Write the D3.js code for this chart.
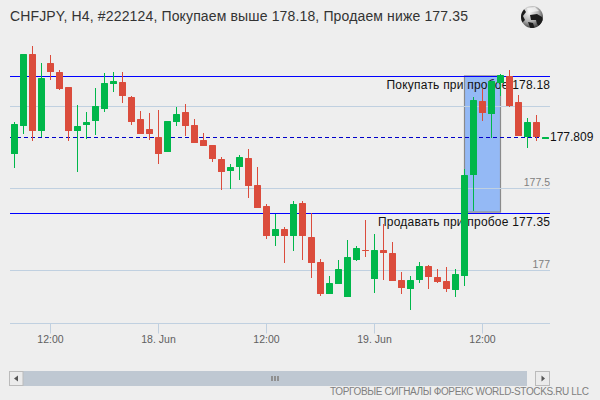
<!DOCTYPE html>
<html><head><meta charset="utf-8">
<script src="https://cdn.jsdelivr.net/npm/d3@7"></script>
<style>html,body{margin:0;padding:0;background:#eeeeee}svg{display:block}text{font-family:"Liberation Sans",Arial,sans-serif}</style>
</head><body><svg id="c" width="600" height="400"></svg>
<script>
const opens =[177.710,177.881,178.320,177.851,178.265,178.210,178.119,177.851,177.887,177.912,177.985,178.137,178.149,178.058,177.924,177.863,177.814,177.723,177.905,177.966,177.887,177.796,177.765,177.680,177.607,177.631,177.686,177.521,177.393,177.210,177.253,177.210,177.412,177.204,177.052,176.857,176.918,176.838,177.064,177.125,176.948,177.125,177.107,176.942,176.887,176.942,177.027,176.960,176.936,176.881,176.966,177.582,178.034,177.954,178.143,178.186,178.027,177.814,177.905,177.802];
const highs =[177.905,178.320,178.369,178.265,178.314,178.223,178.119,178.009,177.966,178.113,178.204,178.210,178.210,178.064,177.973,177.960,177.979,177.912,177.997,178.015,177.924,177.838,177.765,177.692,177.649,177.704,177.741,177.631,177.405,177.344,177.265,177.424,177.424,177.351,177.070,176.966,177.064,177.186,177.149,177.308,177.223,177.284,177.174,176.991,176.966,177.052,177.034,177.009,177.021,177.009,177.619,178.058,178.107,178.155,178.198,178.223,178.070,177.930,177.948,177.814];
const lows  =[177.625,177.832,177.790,177.814,178.162,178.101,177.790,177.601,177.802,177.826,177.966,178.088,178.021,177.887,177.832,177.796,177.649,177.723,177.881,177.820,177.777,177.759,177.662,177.491,177.497,177.552,177.442,177.381,177.192,177.149,177.046,177.119,177.064,176.954,176.845,176.857,176.918,176.838,177.058,177.082,176.863,176.942,176.936,176.857,176.759,176.924,176.887,176.924,176.869,176.838,176.905,177.363,177.912,177.808,178.064,177.997,177.820,177.747,177.790,177.802];
const closes=[177.893,178.320,177.851,178.174,178.210,178.107,177.851,177.881,177.905,178.003,178.143,178.155,178.064,177.905,177.832,177.832,177.710,177.912,177.954,177.881,177.777,177.759,177.680,177.601,177.631,177.692,177.515,177.381,177.210,177.253,177.210,177.405,177.210,177.046,176.857,176.924,177.009,177.082,177.137,177.119,177.125,177.107,176.936,176.893,176.942,177.027,176.960,176.930,176.887,176.979,177.582,178.040,177.960,178.155,178.192,178.003,177.820,177.905,177.814,177.814];
const startTime = new Date(2017,5,17,8,0);
const priceTicks = [177,177.5,178];
const priceLabels = ["177","177.5",""];
const timeTicks = [new Date(2017,5,17,12),new Date(2017,5,18,0),new Date(2017,5,18,12),new Date(2017,5,19,0),new Date(2017,5,19,12)];
const timeLabels = ["12:00","18. Jun","12:00","19. Jun","12:00"];
const buyLevel = 178.18, sellLevel = 177.35, lastPrice = 177.809;
const titleText = "CHFJPY, H4, #222124, Покупаем выше 178.18, Продаем ниже 177.35";
const buyText = "Покупать при пробое 178.18", sellText = "Продавать при пробое 177.35";
const footerText = "ТОРГОВЫЕ СИГНАЛЫ ФОРЕКС WORLD-STOCKS.RU LLC";

const times = opens.map((_,i)=>d3.timeHour.offset(startTime,i));
const candles = opens.map((o,i)=>({t:times[i],o,h:highs[i],l:lows[i],c:closes[i]}));
const x = d3.scaleTime().domain([new Date(2017,5,17,12),new Date(2017,5,18,0)]).range([50.5,158.5]);
const y = d3.scaleLinear().domain([177,178]).range([270.5,106.5]);
const crisp = v=>Math.floor(v)+0.5;
const GREEN="#00b74a", RED="#db4c3c", GRID="#c0d0e0";
const svg=d3.select("#c");
svg.append("rect").attr("width",600).attr("height",400).attr("fill","#eeeeee");

// breakout box
svg.append("rect").attr("x",x(times[50])).attr("width",x(times[54])-x(times[50]))
  .attr("y",y(buyLevel)-1).attr("height",y(sellLevel)-y(buyLevel))
  .attr("fill","#94b9f5").attr("stroke","#8a8a8a").attr("stroke-width",1.2);

// price axis: gridlines + labels
const yAxis=d3.axisRight(y).offset(0).tickValues(priceTicks).tickSize(540).tickFormat((d,i)=>priceLabels[i]);
const gy=svg.append("g").attr("transform","translate(10,0)").call(yAxis);
gy.select(".domain").remove();
gy.selectAll("line").attr("stroke",GRID);
gy.selectAll("text").attr("x",540).attr("dy",-2.5).attr("text-anchor","end")
  .attr("fill","#808080").attr("font-size",10.5).attr("font-family","Liberation Sans");

// time axis
const xAxis=d3.axisBottom(x).offset(0).tickValues(timeTicks).tickSize(10).tickPadding(0)
  .tickFormat((d,i)=>timeLabels[i]);
const gx=svg.append("g").attr("transform","translate(0,323.5)").call(xAxis);
gx.select(".domain").attr("d","M10,0H550").attr("stroke",GRID);
gx.selectAll("line").attr("stroke",GRID);
gx.selectAll("text").attr("y",19.5).attr("dy",0).attr("fill","#606060").attr("font-size",10.5).attr("font-family","Liberation Sans");

// level lines
const lineG=svg.append("g").attr("stroke","#0000ff").attr("stroke-width",1);
[buyLevel,sellLevel].forEach(v=>lineG.append("line").attr("x1",10).attr("x2",550).attr("y1",crisp(y(v))).attr("y2",crisp(y(v))));
lineG.append("line").attr("x1",10).attr("x2",542).attr("y1",crisp(y(lastPrice))).attr("y2",crisp(y(lastPrice))).attr("stroke-dasharray","4,3").attr("stroke","#0000c8");

// level labels
svg.append("text").attr("x",386.5).attr("y",y(buyLevel)+12).attr("font-size",12).attr("fill","#111").attr("textLength",163.5).attr("lengthAdjust","spacing").text(buyText);
svg.append("text").attr("x",378).attr("y",y(sellLevel)+13).attr("font-size",12).attr("fill","#111").attr("textLength",172).attr("lengthAdjust","spacing").text(sellText);

// candles
const g=svg.append("g").selectAll("g").data(candles).join("g");
g.append("line").attr("x1",d=>x(d.t)).attr("x2",d=>x(d.t))
  .attr("y1",d=>Math.round(y(d.h))).attr("y2",d=>Math.round(y(d.l)))
  .attr("stroke",d=>d.c>=d.o?GREEN:RED).attr("stroke-width",1);
g.append("rect").attr("x",d=>x(d.t)-3.5).attr("width",7)
  .attr("y",d=>Math.round(y(Math.max(d.o,d.c))))
  .attr("height",d=>Math.max(1,Math.round(y(Math.min(d.o,d.c)))-Math.round(y(Math.max(d.o,d.c)))))
  .attr("rx",0.5).attr("fill",d=>d.c>=d.o?GREEN:RED);

// last price label
svg.append("text").attr("x",550).attr("y",y(lastPrice)+2.8).attr("font-size",12).attr("fill","#111").text(String(lastPrice));

// title
svg.append("text").attr("x",10).attr("y",21).attr("font-size",14).attr("fill","#333").attr("textLength",458).attr("lengthAdjust","spacing").text(titleText);

// globe
const defs=svg.append("defs");
const rg=defs.append("radialGradient").attr("id","gl").attr("cx","0.38").attr("cy","0.3").attr("r","0.75");
rg.append("stop").attr("offset","0").attr("stop-color","#f6f6f6");
rg.append("stop").attr("offset","0.55").attr("stop-color","#b0b0b0");
rg.append("stop").attr("offset","1").attr("stop-color","#333");
defs.append("clipPath").attr("id","gc").append("circle").attr("cx",532).attr("cy",17).attr("r",11);
svg.append("circle").attr("cx",532).attr("cy",17).attr("r",11).attr("fill","url(#gl)");
const gg=svg.append("g").attr("clip-path","url(#gc)");
gg.append("path").attr("fill","#1c1c1c").attr("d","M520,11 L524,9 L526,12 L523,16 L525,20 L522,23 L519,19Z M530,15 L537,14 L542,17 L544,23 L539,26 L537,24 L536,20 L531,20Z M528,22 L533,23 L535,29 L531,30Z");
gg.append("path").attr("fill","#fafafa").attr("opacity",0.7).attr("d","M527,8 L535,7 L539,11 L532,12 L528,12Z");

// scrollbar
const sb=svg.append("g");
sb.append("rect").attr("x",23).attr("y",371).attr("width",504).attr("height",15).attr("fill","#bfc8d2");
[[9.5,23],[535.5,549.5]].forEach(([a,b])=>sb.append("rect").attr("x",a).attr("y",371.5).attr("width",b-a).attr("height",14).attr("fill","#ebebeb").attr("stroke","#bbbbbb"));
sb.append("path").attr("fill","#555").attr("d","M14,378.5 L18,375.5 L18,381.5Z");
sb.append("path").attr("fill","#555").attr("d","M545,378.5 L541.5,375.5 L541.5,381.5Z");
[271,274,277].forEach(v=>sb.append("rect").attr("x",v).attr("y",376).attr("width",2).attr("height",5).attr("fill","#909090"));

// footer
svg.append("text").attr("x",330).attr("y",395).attr("font-size",10).attr("fill","#808080").attr("textLength",259).attr("lengthAdjust","spacing").text(footerText);
</script></body></html>
